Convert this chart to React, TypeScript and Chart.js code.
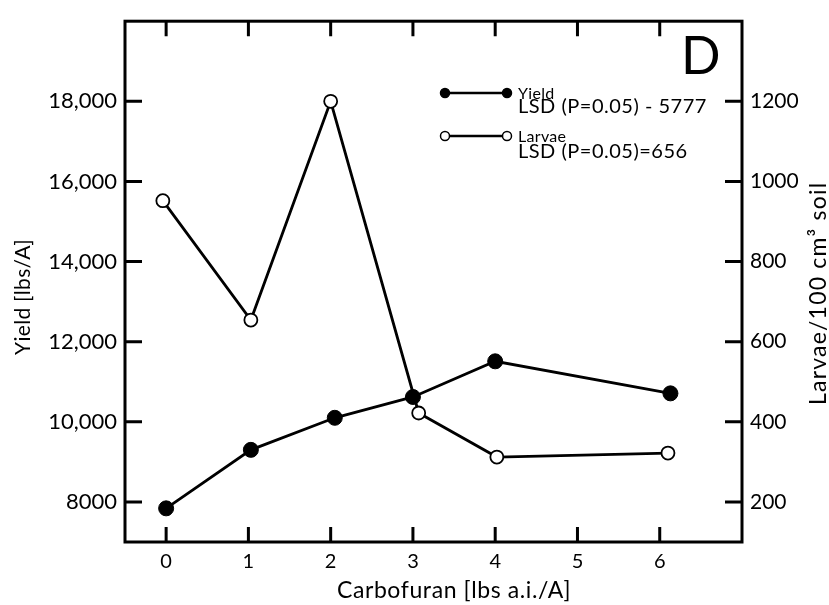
import React, { useEffect, useRef } from "react";
import { Chart, registerables } from "chart.js";

Chart.register(...registerables);

// ---- data ----
const xTicks = [0, 1, 2, 3, 4, 5, 6];
const yieldTicks = [8000, 10000, 12000, 14000, 16000, 18000];
const larvaeTicks = [200, 400, 600, 800, 1000, 1200];

const yieldX = [0, 1.03, 2.05, 3, 4, 6.13];
const yieldY = [7840, 9300, 10100, 10620, 11510, 10710];
const larvaeX = [-0.04, 1.03, 2, 3.07, 4.02, 6.1];
const larvaeY = [952, 654, 1200, 422, 312, 322];

const legendYield = ["Yield", "LSD (P=0.05) - 5777"];
const legendLarvae = ["Larvae", "LSD (P=0.05)=656"];
const panelLabel = "D";
const xTitle = "Carbofuran [lbs a.i./A]";
const yTitle = "Yield [lbs/A]";
const y2Title = "Larvae/100 cm\u00B3 soil";

const FONT = "Lato, 'DejaVu Sans', sans-serif";

const fmtYield = (v: number) =>
  v >= 10000 ? v.toLocaleString("en-US") : String(v);

const decorPlugin = {
  id: "decor",
  afterDraw(chart: any) {
    const { ctx, chartArea: a, scales } = chart;
    ctx.save();
    ctx.strokeStyle = "#000";
    ctx.fillStyle = "#000";
    ctx.lineWidth = 3;
    ctx.lineCap = "butt";
    ctx.strokeRect(a.left, a.top, a.right - a.left, a.bottom - a.top);

    // inward tick marks
    ctx.beginPath();
    xTicks.forEach((v) => {
      const px = scales.x.getPixelForValue(v);
      ctx.moveTo(px, a.bottom);
      ctx.lineTo(px, a.bottom - 15);
      ctx.moveTo(px, a.top);
      ctx.lineTo(px, a.top + 15);
    });
    yieldTicks.forEach((v) => {
      const py = scales.y.getPixelForValue(v);
      ctx.moveTo(a.left, py);
      ctx.lineTo(a.left + 17, py);
    });
    larvaeTicks.forEach((v) => {
      const py = scales.y2.getPixelForValue(v);
      ctx.moveTo(a.right, py);
      ctx.lineTo(a.right - 17, py);
    });
    ctx.stroke();

    // panel letter
    ctx.font = `52px ${FONT}`;
    ctx.textAlign = "left";
    ctx.textBaseline = "alphabetic";
    ctx.fillText(panelLabel, 681, 74);

    // legend
    const ds = chart.data.datasets;
    const drawEntry = (d: any, y: number, lines: string[], y2: number) => {
      ctx.strokeStyle = "#000";
      ctx.lineWidth = 2.5;
      ctx.beginPath();
      ctx.moveTo(445, y);
      ctx.lineTo(507, y);
      ctx.stroke();
      [445, 507].forEach((cx) => {
        ctx.beginPath();
        ctx.arc(cx, y, 4.5, 0, Math.PI * 2);
        ctx.fillStyle = d.pointBackgroundColor;
        ctx.fill();
        ctx.lineWidth = 1.5;
        ctx.strokeStyle = "#000";
        ctx.stroke();
      });
      ctx.fillStyle = "#000";
      ctx.textAlign = "left";
      ctx.textBaseline = "middle";
      ctx.font = `16px ${FONT}`;
      (ctx as any).letterSpacing = "0.3px";
      ctx.fillText(lines[0], 518, y + 1);
      ctx.font = `20px ${FONT}`;
      (ctx as any).letterSpacing = "0.5px";
      ctx.fillText(lines[1], 518, y2);
      (ctx as any).letterSpacing = "0px";
    };
    drawEntry(ds[0], 93, legendYield, 107);
    drawEntry(ds[1], 136, legendLarvae, 152);

    // axis titles
    ctx.fillStyle = "#000";
    ctx.font = `23px ${FONT}`;
    (ctx as any).letterSpacing = "0.6px";
    ctx.textAlign = "center";
    ctx.textBaseline = "middle";
    ctx.fillText(xTitle, 454, 591);

    ctx.save();
    ctx.translate(23, 355);
    ctx.rotate(-Math.PI / 2);
    ctx.font = `21px ${FONT}`;
    (ctx as any).letterSpacing = "0.3px";
    ctx.textAlign = "left";
    ctx.textBaseline = "middle";
    ctx.fillText(yTitle, 0, 0);
    ctx.restore();

    ctx.save();
    ctx.translate(819, 405);
    ctx.rotate(-Math.PI / 2);
    ctx.font = `23px ${FONT}`;
    (ctx as any).letterSpacing = "1.2px";
    ctx.textAlign = "left";
    ctx.textBaseline = "middle";
    ctx.fillText(y2Title, 0, 0);
    ctx.restore();

    (ctx as any).letterSpacing = "0px";
    ctx.restore();
  },
};

export default function App() {
  const ref = useRef<HTMLCanvasElement | null>(null);

  useEffect(() => {
    if (!ref.current) return;
    const chart = new Chart(ref.current, {
      type: "line",
      data: {
        datasets: [
          {
            label: "Yield",
            data: yieldX.map((x, i) => ({ x, y: yieldY[i] })),
            yAxisID: "y",
            borderColor: "#000",
            borderWidth: 2.8,
            pointRadius: 7.5,
            pointBackgroundColor: "#000",
            pointBorderColor: "#000",
            pointBorderWidth: 1,
            tension: 0,
            order: 1,
          },
          {
            label: "Larvae",
            data: larvaeX.map((x, i) => ({ x, y: larvaeY[i] })),
            yAxisID: "y2",
            borderColor: "#000",
            borderWidth: 2.8,
            pointRadius: 6.5,
            pointBackgroundColor: "#fff",
            pointBorderColor: "#000",
            pointBorderWidth: 1.8,
            tension: 0,
            order: 0,
          },
        ],
      },
      options: {
        responsive: false,
        animation: false,
        layout: { padding: { top: 12, left: 0, right: 0, bottom: 0 } },
        plugins: {
          legend: { display: false },
          tooltip: { enabled: false },
          title: { display: false },
        },
        scales: {
          x: {
            type: "linear",
            position: "bottom",
            min: -0.5,
            max: 7.0,
            grid: { display: false, drawTicks: false },
            border: { display: false },
            afterBuildTicks: (s: any) => {
              s.ticks = xTicks.map((v) => ({ value: v }));
            },
            afterFit: (s: any) => {
              s.height = 63;
            },
            ticks: {
              color: "#000",
              font: { family: FONT, size: 20 },
              padding: 8,
              maxRotation: 0,
              callback: (v: any) => String(v),
            },
          },
          y: {
            type: "linear",
            position: "left",
            min: 7000,
            max: 20000,
            grid: { display: false, drawTicks: false },
            border: { display: false },
            afterBuildTicks: (s: any) => {
              s.ticks = yieldTicks.map((v) => ({ value: v }));
            },
            afterFit: (s: any) => {
              s.width = 125;
            },
            ticks: {
              color: "#000",
              font: { family: FONT, size: 22 },
              padding: 8,
              callback: (v: any) => fmtYield(Number(v)),
            },
          },
          y2: {
            type: "linear",
            position: "right",
            min: 100,
            max: 1400,
            grid: { display: false, drawTicks: false },
            border: { display: false },
            afterBuildTicks: (s: any) => {
              s.ticks = larvaeTicks.map((v) => ({ value: v }));
            },
            afterFit: (s: any) => {
              s.width = 87;
            },
            ticks: {
              color: "#000",
              font: { family: FONT, size: 21 },
              padding: 8,
              callback: (v: any) => String(v),
            },
          },
        },
      },
      plugins: [decorPlugin],
    } as any);
    return () => chart.destroy();
  }, []);

  return (
    <div
      style={{
        position: "absolute",
        left: 0,
        top: 0,
        width: 829,
        height: 605,
        background: "#fff",
      }}
    >
      <canvas ref={ref} width={829} height={605} />
    </div>
  );
}
